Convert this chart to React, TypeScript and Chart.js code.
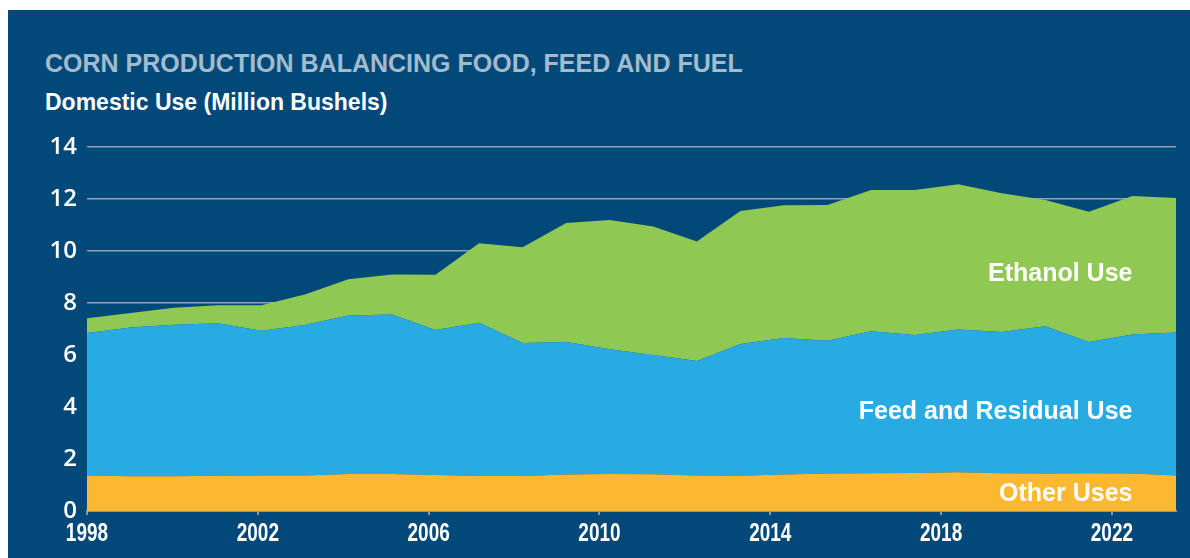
import React, { useEffect, useRef } from 'react';
import { Chart, registerables } from 'chart.js';

Chart.register(...registerables);

// ---- Data (million bushels) ----
const years = [
  1998, 1999, 2000, 2001, 2002, 2003, 2004, 2005, 2006, 2007, 2008, 2009, 2010,
  2011, 2012, 2013, 2014, 2015, 2016, 2017, 2018, 2019, 2020, 2021, 2022, 2023,
];
const otherUses = [
  1.37, 1.34, 1.34, 1.36, 1.37, 1.37, 1.42, 1.42, 1.38, 1.35, 1.35, 1.40, 1.42,
  1.41, 1.37, 1.36, 1.40, 1.44, 1.45, 1.46, 1.49, 1.45, 1.44, 1.45, 1.44, 1.37,
];
const feedResidual = [
  5.48, 5.72, 5.82, 5.86, 5.56, 5.78, 6.10, 6.14, 5.58, 5.89, 5.11, 5.10, 4.80,
  4.59, 4.40, 5.06, 5.25, 5.11, 5.46, 5.31, 5.49, 5.43, 5.67, 5.05, 5.35, 5.50,
];
const ethanolUse = [
  0.56, 0.56, 0.66, 0.69, 0.98, 1.18, 1.39, 1.54, 2.13, 3.06, 3.68, 4.58, 4.97,
  4.94, 4.60, 5.12, 5.11, 5.22, 5.44, 5.58, 5.59, 5.34, 4.85, 5.01, 5.33, 5.17,
];
const xTickYears = [1998, 2002, 2006, 2010, 2014, 2018, 2022];
const yTickValues = [0, 2, 4, 6, 8, 10, 12, 14];
const seriesNames = ['Other Uses', 'Feed and Residual Use', 'Ethanol Use'];

const titleText = 'CORN PRODUCTION BALANCING FOOD, FEED AND FUEL';
const subtitleText = 'Domestic Use (Million Bushels)';

// ---- Styles ----
const PANEL_BG = '#02497a';
const COLORS = ['#fcb830', '#27abe2', '#8fc853'];
const GRID = '#8ea2b5';
const AXIS = '#8d99a5';

const areaLabels = {
  id: 'areaLabels',
  afterDatasetsDraw(chart: any) {
    const { ctx, scales } = chart;
    const xs = scales.x;
    const ys = scales.y;
    const px = xs.getPixelForValue(2022);
    const anchors: [string, number][] = [
      [seriesNames[2], 9.12],
      [seriesNames[1], 3.8],
      [seriesNames[0], 0.64],
    ];
    ctx.save();
    ctx.fillStyle = '#ffffff';
    ctx.font = 'bold 25px "Liberation Sans", Arial, sans-serif';
    ctx.textAlign = 'right';
    ctx.textBaseline = 'middle';
    anchors.forEach(([t, v]) => ctx.fillText(t, px, ys.getPixelForValue(v)));
    ctx.restore();
  },
};

// Condensed year labels under the x axis, placed by the tick scale
const condensedXLabels = {
  id: 'condensedXLabels',
  afterDraw(chart: any) {
    const { ctx, scales } = chart;
    const s = scales.xTicks;
    ctx.save();
    ctx.fillStyle = '#ffffff';
    ctx.font = 'bold 25px "Liberation Sans", Arial, sans-serif';
    ctx.textAlign = 'center';
    ctx.textBaseline = 'middle';
    const y = s.top + 23;
    const k = 0.76;
    xTickYears.forEach((yr) => {
      const px = s.getPixelForValue(yr);
      ctx.save();
      ctx.translate(px, y);
      ctx.scale(k, 1);
      ctx.fillText(String(yr), 0, 0);
      ctx.restore();
    });
    ctx.restore();
  },
};

export default function App() {
  const canvasRef = useRef<HTMLCanvasElement | null>(null);

  useEffect(() => {
    if (!canvasRef.current) return;
    const series = [otherUses, feedResidual, ethanolUse];
    const chart = new Chart(canvasRef.current, {
      type: 'line',
      data: {
        datasets: series.map((vals, i) => ({
          label: seriesNames[i],
          data: years.map((yr, j) => ({ x: yr, y: vals[j] })),
          backgroundColor: COLORS[i],
          borderColor: COLORS[i],
          borderWidth: 0,
          pointRadius: 0,
          tension: 0,
          fill: i === 0 ? 'origin' : '-1',
          xAxisID: 'x',
          yAxisID: 'y',
        })),
      },
      options: {
        responsive: false,
        animation: false,
        layout: { padding: { left: 0, top: 137, right: 14, bottom: 7 } },
        plugins: {
          legend: { display: false },
          tooltip: { enabled: false },
          title: { display: false },
        },
        scales: {
          x: {
            type: 'linear',
            min: years[0],
            max: years[years.length - 1],
            display: false,
          },
          xTicks: {
            type: 'linear',
            position: 'bottom',
            min: 1998,
            max: 2023.5,
            afterBuildTicks: (s: any) => {
              s.ticks = xTickYears.map((v) => ({ value: v }));
            },
            afterFit: (s: any) => {
              s.height = 40;
            },
            ticks: {
              display: false,
              autoSkip: false,
              maxRotation: 0,
              minRotation: 0,
            },
            grid: {
              drawOnChartArea: false,
              color: AXIS,
              lineWidth: 2,
              tickLength: 4,
            },
            border: { color: AXIS, width: 2 },
          },
          y: {
            type: 'linear',
            stacked: true,
            min: 0,
            max: 14,
            afterBuildTicks: (s: any) => {
              s.ticks = yTickValues.map((v) => ({ value: v }));
            },
            afterFit: (s: any) => {
              s.width = 79;
            },
            ticks: {
              callback: (v: any) => String(v),
              color: '#ffffff',
              font: { family: '"Open Sans", sans-serif', size: 24, weight: '600' },
              padding: 10,
            },
            grid: { color: GRID, lineWidth: 1.5, drawTicks: false },
            border: { display: false },
          },
        },
      } as any,
      plugins: [areaLabels, condensedXLabels],
    });
    return () => chart.destroy();
  }, []);

  return (
    <div
      style={{
        position: 'absolute',
        left: 8,
        top: 10,
        width: 1182,
        height: 548,
        background: PANEL_BG,
        overflow: 'hidden',
      }}
    >
      <div
        style={{
          position: 'absolute',
          left: 37,
          top: 41,
          font: 'bold 25px "Liberation Sans", Arial, sans-serif',
          lineHeight: '25px',
          color: '#a3bccd',
          whiteSpace: 'nowrap',
        }}
      >
        {titleText}
      </div>
      <div
        style={{
          position: 'absolute',
          left: 37,
          top: 81,
          font: 'bold 23px "Liberation Sans", Arial, sans-serif',
          lineHeight: '23px',
          color: '#ffffff',
          whiteSpace: 'nowrap',
        }}
      >
        {subtitleText}
      </div>
      <canvas
        ref={canvasRef}
        width={1182}
        height={548}
        style={{ position: 'absolute', left: 0, top: 0, width: 1182, height: 548 }}
      />
    </div>
  );
}
